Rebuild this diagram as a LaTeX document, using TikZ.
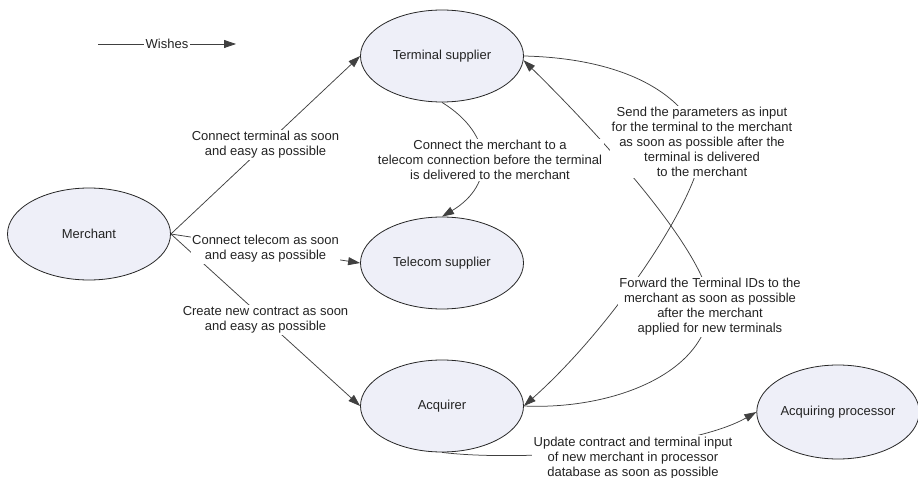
\documentclass[tikz,border=0pt]{standalone}
\usepackage{fontspec}
\setmainfont{Liberation Sans}
\usetikzlibrary{arrows.meta,backgrounds,calc,shapes.geometric}
\definecolor{inkline}{RGB}{64,64,64}
\definecolor{inktext}{RGB}{35,35,35}
\definecolor{bubble}{RGB}{238,239,248}
\begin{document}
\begin{tikzpicture}[x=1pt,y=-1pt,
  actor/.style={ellipse, draw=black!85, line width=0.8pt, fill=bubble,
    minimum width=163pt, minimum height=92pt, inner sep=0pt,
    text=inktext, font=\fontsize{13}{15}\selectfont},
  wish/.style={fill=white, inner sep=1.5pt, align=center, text=inktext,
    font=\fontsize{13}{15}\selectfont},
  flow/.style={draw=inkline, line width=0.75pt,
    -{Triangle[length=12pt,width=8pt]}},
  ]
\useasboundingbox (0,0) rectangle (918,478);

% parties
\node[actor] (merch) at (89,234) {Merchant};
\node[actor] (ts)    at (442,56)  {Terminal supplier};
\node[actor] (tel)   at (442,263) {Telecom supplier};
\node[actor] (acq)   at (442,406) {Acquirer};
\node[actor, minimum width=160pt, minimum height=94pt] (proc) at (838,412) {Acquiring processor};

% legend
\coordinate (wfrom) at (98,44);
\coordinate (wto)   at (236,44);
\node[wish] (wlbl) at (167,44) {Wishes};

% wish labels
\node[wish] (lblterm) at ($(merch.east)!0.5!(ts.west)$)  {Connect terminal as soon\\and easy as possible};
\node[wish] (lbltel)  at ($(merch.east)!0.5!(tel.west)$) {Connect telecom as soon\\and easy as possible};
\node[wish] (lblcon)  at ($(merch.east)!0.5!(acq.west)$) {Create new contract as soon\\and easy as possible};
\node[wish] (lblline) at (490,160) {Connect the merchant to a\\telecom connection before the terminal\\is delivered to the merchant};
\node[wish] (lblparam) at (702,142) {Send the parameters as input\\for the terminal to the merchant\\as soon as possible after the\\terminal is delivered\\to the merchant};
\node[wish] (lblids) at (710,307) {Forward the Terminal IDs to the\\merchant as soon as possible\\after the merchant\\applied for new terminals};
\node[wish] (lblupd) at (633,458) {Update contract and terminal input\\of new merchant in processor\\database as soon as possible};

% connectors run behind the labels
\begin{pgfonlayer}{background}
\draw[flow] (wfrom) -- (wto);
\draw[flow] (merch.east) -- (ts.west);
\draw[flow] (merch.east) -- (tel.west);
\draw[flow] (merch.east) -- (acq.west);
\draw[flow] (ts.south) .. controls (495,135) and (495,185) .. (tel.north);
\draw[flow] (ts.east) .. controls (610,58) and (680,85) .. (lblparam.center)
  .. controls (705,190) and (615,325) .. (acq.east);
\draw[flow] (acq.east) .. controls (610,410) and (705,375) .. (lblids.center)
  .. controls (710,260) and (615,150) .. (ts.-3);
\draw[flow] (acq.south) .. controls (520,462) and (690,450) .. (proc.west);
\end{pgfonlayer}
\end{tikzpicture}
\end{document}
